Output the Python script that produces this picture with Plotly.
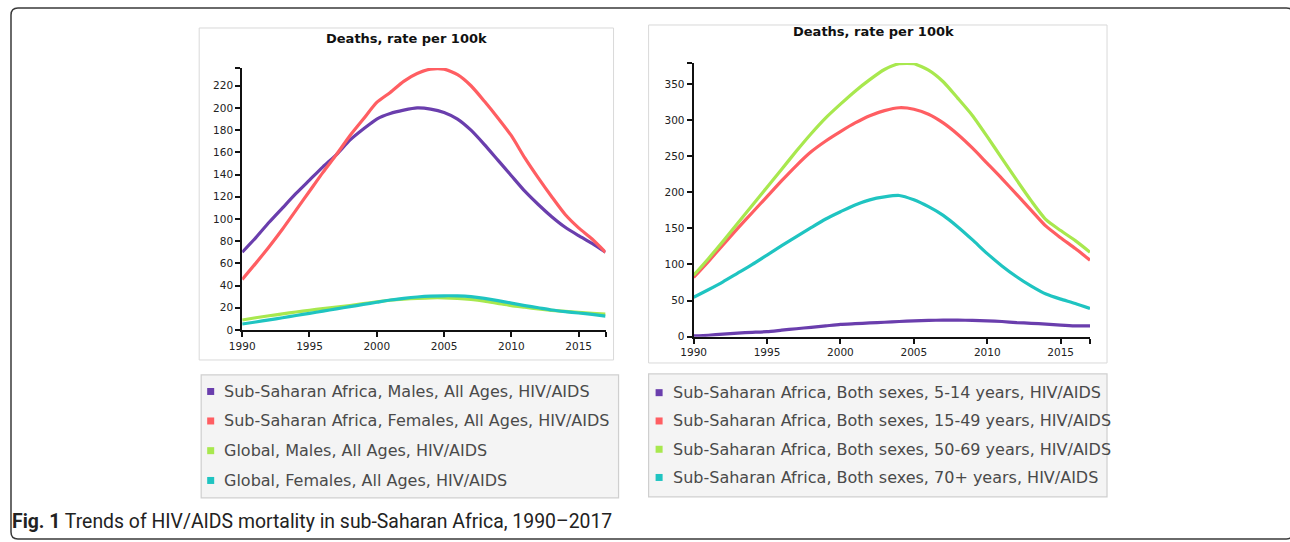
import plotly.graph_objects as go

W, H = 1290, 542

# ---------------- data ----------------
years = list(range(1990, 2018))

# left panel: all ages, by sex
left_names = [
    "Sub-Saharan Africa, Males, All Ages, HIV/AIDS",
    "Sub-Saharan Africa, Females, All Ages, HIV/AIDS",
    "Global, Males, All Ages, HIV/AIDS",
    "Global, Females, All Ages, HIV/AIDS",
]
ssa_males = [70, 83, 97, 110, 123, 135, 147, 158, 171, 181, 190, 195, 198, 200,
             199, 196, 190, 180, 167, 153, 139, 125, 113, 102, 92.5, 85, 78, 70]
ssa_females = [45.5, 60, 75, 91, 108, 125, 142, 158, 175, 190, 205, 214, 224, 231,
               235, 235, 230, 220, 206, 191, 175, 155, 137, 120, 104, 92, 82, 70]
global_males = [9, 11, 12.8, 14.5, 16.2, 17.8, 19.2, 20.5, 22, 23.7, 25.4, 26.8, 27.8, 28.5,
                29, 29, 28.5, 27.5, 26, 24, 22, 20.5, 19, 17.7, 16.7, 15.8, 15, 14.3]
global_females = [5.4, 7.2, 9.1, 11, 13, 15, 17, 19, 21, 23, 25, 27, 28.5, 29.7,
                  30.5, 30.8, 30.7, 30, 28.5, 26.5, 24.2, 22, 20, 18, 16.5, 15.3, 14, 12.5]

# right panel: sub-Saharan Africa, both sexes, by age group
right_names = [
    "Sub-Saharan Africa, Both sexes, 5-14 years, HIV/AIDS",
    "Sub-Saharan Africa, Both sexes, 15-49 years, HIV/AIDS",
    "Sub-Saharan Africa, Both sexes, 50-69 years, HIV/AIDS",
    "Sub-Saharan Africa, Both sexes, 70+ years, HIV/AIDS",
]
ssa_5_14 = [1, 2, 3.5, 5, 6, 7, 9, 11, 13, 15, 17, 18, 19, 20,
            21, 22, 22.5, 23, 23, 22.5, 22, 21, 19.5, 18.5, 17.5, 16, 15, 15]
ssa_15_49 = [82, 104, 127, 150, 172, 194, 216, 237, 256, 271, 284, 296, 306, 313,
             317, 315, 308, 296, 280, 261, 240, 219, 197, 175, 153, 137, 122, 106]
ssa_50_69 = [85, 108, 132, 157, 182, 207, 232, 257, 281, 303, 322, 340, 356, 370,
             378, 378, 369, 353, 330, 306, 277, 247, 217, 188, 162, 147, 133, 117]
ssa_70p = [54.5, 65, 76, 88, 100, 113, 126, 138.6, 151, 163, 173, 182.5, 189.5, 193.5,
           195.5, 189.5, 180, 168, 152, 134, 115, 98, 83, 70, 59, 52, 46, 39]

left_series = [ssa_males, ssa_females, global_males, global_females]
right_series = [ssa_5_14, ssa_15_49, ssa_50_69, ssa_70p]

colors = ["#6a3ead", "#ff5e62", "#a8e84e", "#1fc4c1"]

title_text = "Deaths, rate per 100k"
caption_bold = "Fig. 1"
caption_text = "Trends of HIV/AIDS mortality in sub-Saharan Africa, 1990\u20132017"

x_ticks = [1990, 1995, 2000, 2005, 2010, 2015]
left_y_ticks = list(range(0, 221, 20))
right_y_ticks = list(range(0, 351, 50))


# ---------------- helpers (pixel -> paper, with viewer compensation) ----------------
SX, OX, SY = 0.989, 12.0, 0.989


def px(x):
    return ((x - OX) / SX) / W


def py(y):
    return 1 - (y / SY) / H


fig = go.Figure()

for vals, name, c in zip(left_series, left_names, colors):
    fig.add_trace(go.Scatter(x=years, y=vals, name=name, mode="lines",
                             line=dict(color=c, width=3.2, shape="spline", smoothing=0.6),
                             xaxis="x", yaxis="y", showlegend=False))
for vals, name, c in zip(right_series, right_names, colors):
    fig.add_trace(go.Scatter(x=years, y=vals, name=name, mode="lines",
                             line=dict(color=c, width=3.2, shape="spline", smoothing=0.6),
                             xaxis="x2", yaxis="y2", showlegend=False))

tick_font = dict(family="DejaVu Sans, Verdana, sans-serif", size=10.5, color="#222")
axis_common = dict(showgrid=False, zeroline=False, showline=True, linecolor="#111",
                   linewidth=2, ticks="outside", ticklen=5, tickwidth=1.5,
                   tickcolor="#111", tickfont=tick_font, fixedrange=True)

xt_vals = x_ticks + [2017]
xt_text = [str(v) for v in x_ticks] + [""]

fig.update_layout(
    width=W, height=H,
    margin=dict(l=0, r=0, t=0, b=0),
    paper_bgcolor="white", plot_bgcolor="rgba(0,0,0,0)",
    showlegend=False,
    xaxis=dict(domain=[px(241), px(604)], range=[1990, 2017], anchor="y",
               tickmode="array", tickvals=xt_vals, ticktext=xt_text, **axis_common),
    yaxis=dict(domain=[py(330), py(68)], range=[0, 236], anchor="x",
               tickmode="array", tickvals=left_y_ticks + [236],
               ticktext=[str(v) for v in left_y_ticks] + [""], **axis_common),
    xaxis2=dict(domain=[px(692), px(1088)], range=[1990, 2017], anchor="y2",
                tickmode="array", tickvals=xt_vals, ticktext=xt_text, **axis_common),
    yaxis2=dict(domain=[py(336.7), py(63)], range=[0, 379], anchor="x2",
                tickmode="array", tickvals=right_y_ticks + [379],
                ticktext=[str(v) for v in right_y_ticks] + [""], **axis_common),
)

shapes = []
# outer rounded frame
x0, y0, x1, y1, r = px(10), py(8), px(1291), py(539), 7
rx, ry = r / W, r / H
path = (f"M {x0 + rx},{y0} L {x1 - rx},{y0} Q {x1},{y0} {x1},{y0 - ry} "
        f"L {x1},{y1 + ry} Q {x1},{y1} {x1 - rx},{y1} L {x0 + rx},{y1} "
        f"Q {x0},{y1} {x0},{y1 + ry} L {x0},{y0 - ry} Q {x0},{y0} {x0 + rx},{y0} Z")
shapes.append(dict(type="path", xref="paper", yref="paper", path=path,
                   line=dict(color="#3a3a3a", width=1.5), layer="below"))
# chart panels
for (a, b, c_, d) in [(198, 28, 612, 360), (647, 25, 1105, 363)]:
    shapes.append(dict(type="rect", xref="paper", yref="paper",
                       x0=px(a), x1=px(c_), y0=py(b), y1=py(d),
                       line=dict(color="#d9d9d9", width=1), layer="below"))
# legend boxes
for (a, b, c_, d) in [(200, 375, 617, 498), (647, 374, 1105, 497)]:
    shapes.append(dict(type="rect", xref="paper", yref="paper",
                       x0=px(a), x1=px(c_), y0=py(b), y1=py(d),
                       fillcolor="#f4f4f4", line=dict(color="#cfcfcf", width=1.2),
                       layer="below"))

annotations = []
title_font = dict(family="DejaVu Sans, Verdana, sans-serif", size=13, color="#111")
annotations.append(dict(x=px(405), y=py(39), xref="paper", yref="paper",
                        text=f"<b>{title_text}</b>", showarrow=False, font=title_font,
                        xanchor="center", yanchor="middle"))
annotations.append(dict(x=px(872), y=py(32), xref="paper", yref="paper",
                        text=f"<b>{title_text}</b>", showarrow=False, font=title_font,
                        xanchor="center", yanchor="middle"))

legend_font = dict(family="DejaVu Sans, Verdana, sans-serif", size=16, color="#4a4a4a")
left_leg_y = [391.5, 421, 450.7, 480.5]
right_leg_y = [392.7, 421, 449.3, 477.5]
for names, ys, sq_x, tx in [(left_names, left_leg_y, 206, 221),
                            (right_names, right_leg_y, 654, 669.5)]:
    for name, yy, c in zip(names, ys, colors):
        shapes.append(dict(type="rect", xref="paper", yref="paper",
                           x0=px(sq_x), x1=px(sq_x + 7), y0=py(yy - 3.5), y1=py(yy + 3.5),
                           fillcolor=c, line=dict(width=0)))
        annotations.append(dict(x=px(tx), y=py(yy), xref="paper", yref="paper",
                                text=name, showarrow=False, font=legend_font,
                                xanchor="left", yanchor="middle"))

annotations.append(dict(x=px(9.5), y=py(522), xref="paper", yref="paper",
                        text=f"<b>{caption_bold}</b> {caption_text}", showarrow=False,
                        font=dict(family="Roboto, sans-serif", size=19.4, color="#222"),
                        xanchor="left", yanchor="middle"))

fig.update_layout(shapes=shapes, annotations=annotations)

fig.write_html("out.html",
               config={"displayModeBar": False},
               post_script="document.body.style.margin='0';"
                           "document.body.style.overflow='hidden';")
